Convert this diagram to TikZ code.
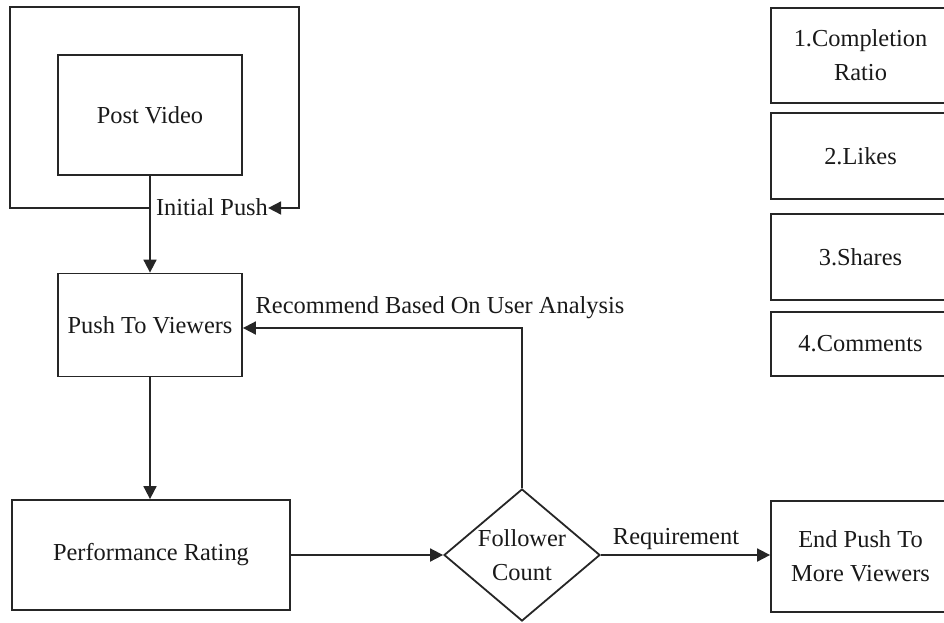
\documentclass[tikz,border=0pt]{standalone}
\usepackage{fontspec}
\setmainfont{Liberation Serif}
\usetikzlibrary{shapes.geometric,arrows.meta}

\tikzset{
  ink/.style={draw=black!85, line width=1.8pt},
  txt/.style={text=black!90, font=\fontsize{24.4}{34}\selectfont},
  box/.style={ink, txt, rectangle, inner sep=0pt, align=center},
  decision/.style={ink, txt, diamond, aspect=1.18, inner sep=0pt,
    minimum width=156pt, minimum height=132pt, align=center},
  lbl/.style={txt, inner sep=0pt},
  flow/.style={ink, -{Triangle[length=13pt,width=13pt]}},
}

\begin{document}
\begin{tikzpicture}[x=1pt, y=-1pt]
  \useasboundingbox (0,0) rectangle (944,622);

  % main flow
  \node[box, minimum width=184pt, minimum height=120pt] (post) at (150,115) {Post Video};
  \node[box, minimum width=184pt, minimum height=103pt] (push) at (150,325) {Push To Viewers};
  \node[box, minimum width=278pt, minimum height=110pt] (perf) at (151,555) {Performance Rating};
  \node[decision] (follow) at (522,555) {Follower\\Count};
  \node[box, minimum width=179pt, minimum height=111pt] (endpush) at (860.5,556.5) {End Push To\\More Viewers};

  % evaluation criteria
  \node[box, minimum width=179pt, minimum height=95pt] (crit1) at (860.5,55.5) {1.Completion\\Ratio};
  \node[box, minimum width=179pt, minimum height=86pt] (crit2) at (860.5,156) {2.Likes};
  \node[box, minimum width=179pt, minimum height=86pt] (crit3) at (860.5,257) {3.Shares};
  \node[box, minimum width=179pt, minimum height=64pt] (crit4) at (860.5,344) {4.Comments};

  % labels
  \node[lbl, anchor=base] (initpush) at (212,215) {Initial Push};
  \node[lbl, anchor=base] (recommend) at (440,313) {Recommend Based On User Analysis};
  \node[lbl, anchor=base] (require) at (676,544) {Requirement};

  % initial push loop around the post
  \coordinate (lp) at (150,208);
  \draw[flow] (lp) -- (10,208) -- (10,7) -- (299,7) -- (299,208) -- (initpush.east |- lp);

  % feedback line enters the push box a little below its centre
  \coordinate (fb) at ([yshift=-3pt]push.east);

  % connectors
  \draw[flow] (post.south) -- (push.north);
  \draw[flow] (push.south) -- (push.south |- perf.north);
  \draw[flow] (perf.east) -- (follow.west);
  \draw[flow] (follow.north) -- (follow.north |- fb) -- (fb);
  \draw[flow] (follow.east) -- (follow.east -| endpush.west);
\end{tikzpicture}
\end{document}
